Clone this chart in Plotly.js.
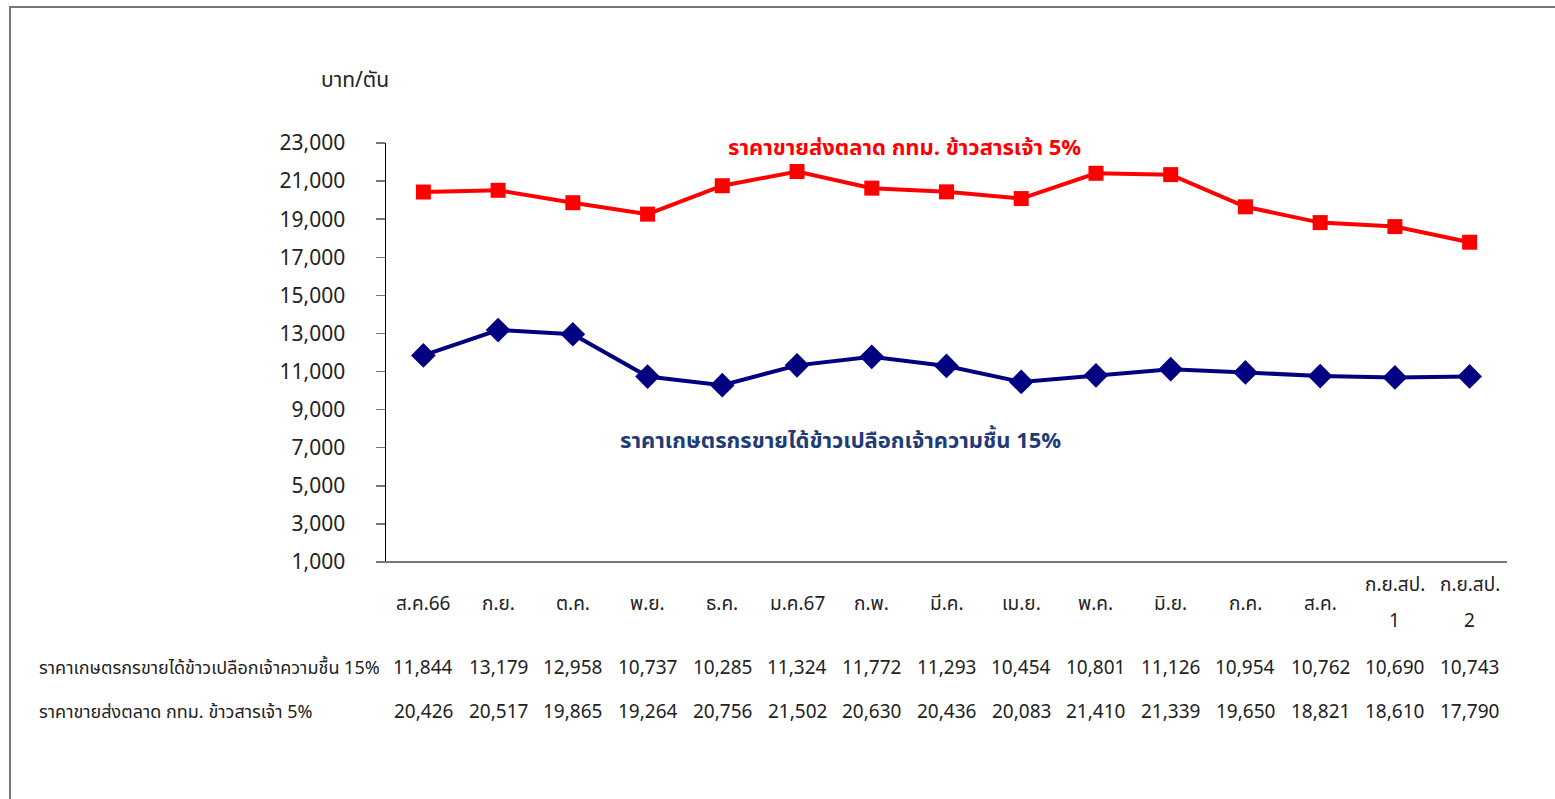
<!DOCTYPE html>
<html><head><meta charset="utf-8">
<script src="https://cdn.plot.ly/plotly-3.0.1.min.js"></script>
<style>html,body{margin:0;padding:0;background:#fff}#chart{width:1555px;height:799px}</style>
</head><body><div id="chart"></div>
<script>
const categories = ['ส.ค.66','ก.ย.','ต.ค.','พ.ย.','ธ.ค.','ม.ค.67','ก.พ.','มี.ค.','เม.ย.','พ.ค.','มิ.ย.','ก.ค.','ส.ค.','ก.ย.สป.<br>1','ก.ย.สป.<br>2'];
const farmerName = 'ราคาเกษตรกรขายได้ข้าวเปลือกเจ้าความชื้น 15%';
const farmerPrice = [11844,13179,12958,10737,10285,11324,11772,11293,10454,10801,11126,10954,10762,10690,10743];
const wholesaleName = 'ราคาขายส่งตลาด กทม. ข้าวสารเจ้า 5%';
const wholesalePrice = [20426,20517,19865,19264,20756,21502,20630,20436,20083,21410,21339,19650,18821,18610,17790];
const yTicks = [1000,3000,5000,7000,9000,11000,13000,15000,17000,19000,21000,23000];
const yUnit = 'บาท/ตัน';

const FONT = '"Noto Sans Thai","Noto Sans","DejaVu Sans",sans-serif';
const L = 386, R = 1507, T = 143, B = 562;
const px2x = p => (p - L) / (R - L);
const px2y = p => (B - p) / (B - T);
const fmt = v => v.toLocaleString('en-US');

const traces = [
  {x: categories, y: wholesalePrice, type: 'scatter', mode: 'lines+markers', name: wholesaleName,
   line: {color: '#FF0000', width: 4}, marker: {symbol: 'square', size: 15, color: '#FF0000'}},
  {x: categories, y: farmerPrice, type: 'scatter', mode: 'lines+markers', name: farmerName,
   line: {color: '#000080', width: 4}, marker: {symbol: 'diamond', size: 19, color: '#000080'}}
];

const ann = [];
categories.forEach((c, i) => {
  const lines = c.split('<br>');
  const ys = lines.length === 1 ? [604] : [585, 621];
  lines.forEach((t, k) => ann.push({x: c, xref: 'x', y: px2y(ys[k]), yref: 'paper', text: t, showarrow: false,
    xanchor: 'center', yanchor: 'middle', font: {family: FONT, size: 19, color: '#222'}}));
  ann.push({x: c, xref: 'x', y: px2y(668), yref: 'paper', text: fmt(farmerPrice[i]), showarrow: false,
    xanchor: 'center', yanchor: 'middle', font: {family: FONT, size: 19, color: '#222'}});
  ann.push({x: c, xref: 'x', y: px2y(712), yref: 'paper', text: fmt(wholesalePrice[i]), showarrow: false,
    xanchor: 'center', yanchor: 'middle', font: {family: FONT, size: 19, color: '#222'}});
});
ann.push({x: px2x(37), xref: 'paper', y: px2y(668), yref: 'paper', text: farmerName, showarrow: false,
  xanchor: 'left', yanchor: 'middle', font: {family: FONT, size: 18, color: '#222'}});
ann.push({x: px2x(37), xref: 'paper', y: px2y(712), yref: 'paper', text: wholesaleName, showarrow: false,
  xanchor: 'left', yanchor: 'middle', font: {family: FONT, size: 18, color: '#222'}});
ann.push({x: px2x(355), xref: 'paper', y: px2y(80), yref: 'paper', text: yUnit, showarrow: false,
  xanchor: 'center', yanchor: 'middle', font: {family: FONT, size: 21, color: '#222'}});
ann.push({x: px2x(904), xref: 'paper', y: px2y(149), yref: 'paper', text: '<b>' + wholesaleName + '</b>', showarrow: false,
  xanchor: 'center', yanchor: 'middle', font: {family: FONT, size: 22, color: '#FF0000'}});
ann.push({x: px2x(840), xref: 'paper', y: px2y(441), yref: 'paper', text: '<b>' + farmerName + '</b>', showarrow: false,
  xanchor: 'center', yanchor: 'middle', font: {family: FONT, size: 22, color: '#1F3B78'}});

const layout = {
  width: 1555, height: 799,
  margin: {l: L, r: 1555 - R, t: T, b: 799 - B, pad: 0},
  paper_bgcolor: '#fff', plot_bgcolor: '#fff',
  showlegend: false,
  font: {family: FONT, color: '#222'},
  xaxis: {type: 'category', showticklabels: false, ticks: '', showgrid: false, zeroline: false, showline: false,
          range: [-0.5, categories.length - 0.5], fixedrange: true},
  yaxis: {range: [1000, 23000], tickvals: yTicks, ticktext: yTicks.map(fmt), showgrid: false, zeroline: false,
          showline: true, linecolor: '#000', linewidth: 1.5, ticks: 'outside', ticklen: 9, tickcolor: '#777', tickwidth: 1.5,
          ticklabelstandoff: 26, tickfont: {family: FONT, size: 21, color: '#222'}, fixedrange: true},
  shapes: [
    {type: 'line', xref: 'paper', yref: 'paper', x0: px2x(377), x1: 1, y0: 0, y1: 0, line: {color: '#777', width: 2}},
    {type: 'rect', xref: 'paper', yref: 'paper', x0: px2x(10), x1: px2x(1600), y0: px2y(7), y1: px2y(850),
     line: {color: '#777', width: 2}, fillcolor: 'rgba(0,0,0,0)'}
  ],
  annotations: ann
};
Plotly.newPlot('chart', traces, layout, {displayModeBar: false, staticPlot: true});
</script></body></html>
